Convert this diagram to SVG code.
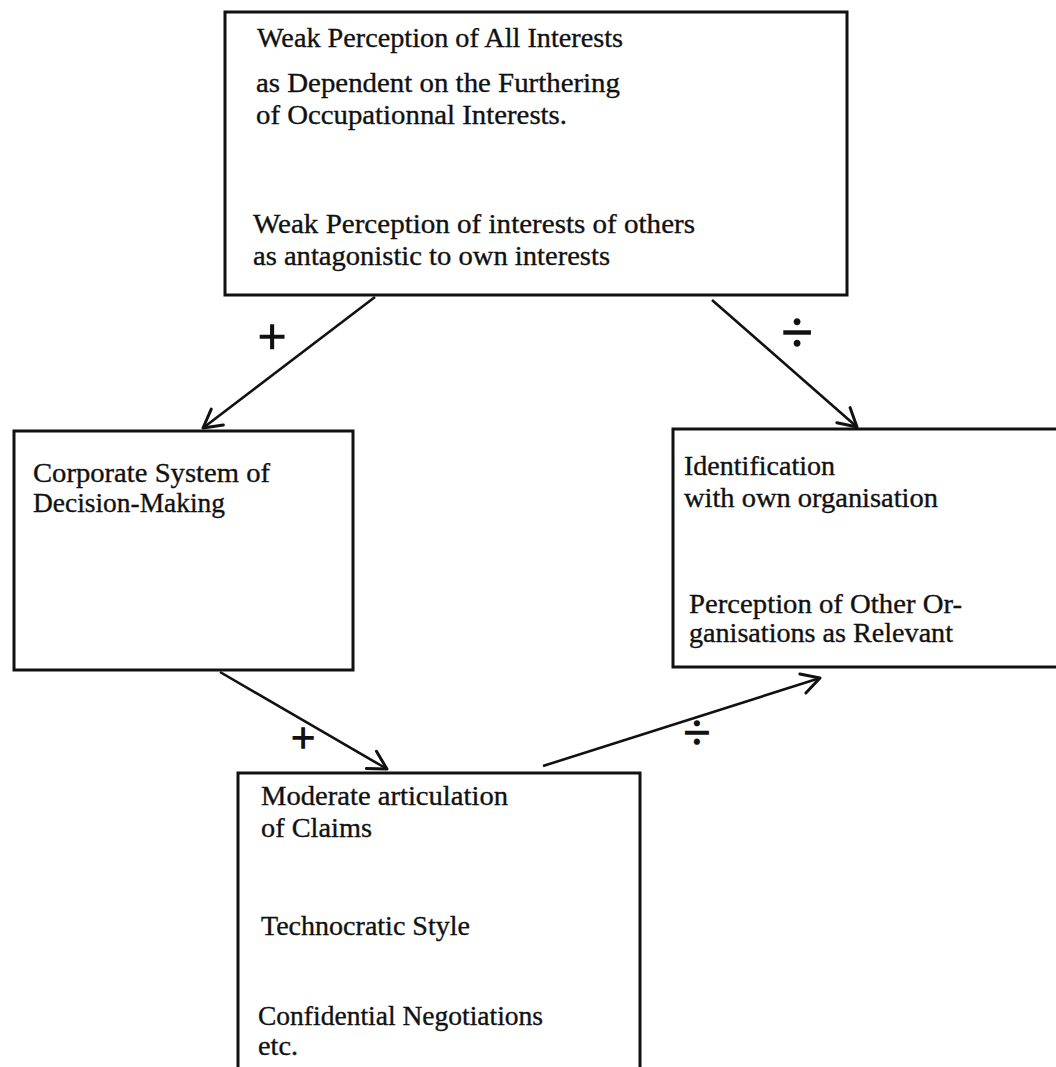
<svg xmlns="http://www.w3.org/2000/svg" width="1056" height="1067" viewBox="0 0 1056 1067">
<defs>
<style>
.box{fill:#fff;stroke:#111;stroke-width:3}
.t{font-family:"Liberation Serif","Times New Roman",serif;font-size:28px;fill:#111;stroke:#111;stroke-width:0.35}
.sign{font-family:"Liberation Serif","Times New Roman",serif;fill:#111;stroke:#111;stroke-width:1.6;text-anchor:middle}
.arrow{stroke:#111;stroke-width:2.6;fill:none;marker-end:url(#ah)}
</style>
<marker id="ah" markerUnits="userSpaceOnUse" markerWidth="26" markerHeight="26" viewBox="0 0 26 26" refX="24" refY="13" orient="auto">
<path d="M6,3 L24,13 L6,23" fill="none" stroke="#111" stroke-width="3" stroke-linecap="round" stroke-linejoin="round"/>
</marker>
</defs>
<rect width="1056" height="1067" fill="#fff"/>
<g id="node-top">
<rect class="box" x="225" y="12" width="622" height="283"/>
<text class="t" x="257" y="47" textLength="366" lengthAdjust="spacingAndGlyphs">Weak Perception of All Interests</text>
<text class="t" x="256" y="92" textLength="364" lengthAdjust="spacingAndGlyphs">as Dependent on the Furthering</text>
<text class="t" x="256" y="124" textLength="311" lengthAdjust="spacingAndGlyphs">of Occupationnal Interests.</text>
<text class="t" x="253" y="233" textLength="442" lengthAdjust="spacingAndGlyphs">Weak Perception of interests of others</text>
<text class="t" x="253" y="265" textLength="357" lengthAdjust="spacingAndGlyphs">as antagonistic to own interests</text>
</g>
<g id="node-left">
<rect class="box" x="14" y="431" width="339" height="239"/>
<text class="t" x="33" y="482" textLength="237" lengthAdjust="spacingAndGlyphs">Corporate System of</text>
<text class="t" x="33" y="512" textLength="192" lengthAdjust="spacingAndGlyphs">Decision-Making</text>
</g>
<g id="node-right">
<rect class="box" x="673" y="429" width="400" height="238"/>
<text class="t" x="684" y="475" textLength="151" lengthAdjust="spacingAndGlyphs">Identification</text>
<text class="t" x="684" y="507" textLength="254" lengthAdjust="spacingAndGlyphs">with own organisation</text>
<text class="t" x="689" y="613" textLength="273" lengthAdjust="spacingAndGlyphs">Perception of Other Or-</text>
<text class="t" x="689" y="642" textLength="264" lengthAdjust="spacingAndGlyphs">ganisations as Relevant</text>
</g>
<g id="node-bottom">
<rect class="box" x="238" y="773" width="402" height="310"/>
<text class="t" x="261" y="805" textLength="247" lengthAdjust="spacingAndGlyphs">Moderate articulation</text>
<text class="t" x="261" y="837" textLength="111" lengthAdjust="spacingAndGlyphs">of Claims</text>
<text class="t" x="261" y="935" textLength="209" lengthAdjust="spacingAndGlyphs">Technocratic Style</text>
<text class="t" x="258" y="1025" textLength="285" lengthAdjust="spacingAndGlyphs">Confidential Negotiations</text>
<text class="t" x="258" y="1055" textLength="40" lengthAdjust="spacingAndGlyphs">etc.</text>
</g>
<g id="connectors">
<line class="arrow" x1="375" y1="297" x2="203" y2="428"/>
<line class="arrow" x1="712" y1="300" x2="857" y2="427"/>
<line class="arrow" x1="220" y1="672" x2="387" y2="769"/>
<line class="arrow" x1="543" y1="766" x2="820" y2="678"/>
<text class="sign" x="272" y="354" font-size="50">+</text>
<text class="sign" x="797" y="352" font-size="56">÷</text>
<text class="sign" x="303" y="752" font-size="42">+</text>
<text class="sign" x="697" y="749" font-size="48">÷</text>
</g>
</svg>
